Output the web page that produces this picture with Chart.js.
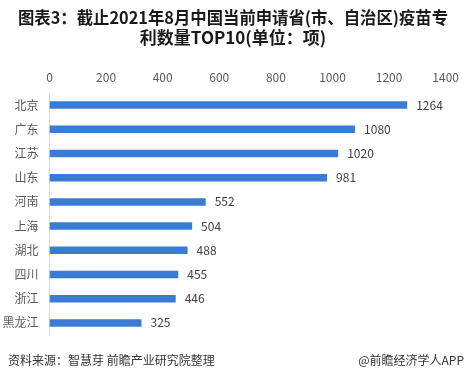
<!DOCTYPE html>
<html><head><meta charset="utf-8">
<script src="https://cdn.jsdelivr.net/npm/chart.js@4/dist/chart.umd.min.js"></script>
<style>html,body{margin:0;padding:0;background:#fff;}#wrap{width:467px;height:380px;position:relative;}</style>
</head><body><div id="wrap"><canvas id="c" width="467" height="380"></canvas></div>
<script>
const categories = ['北京','广东','江苏','山东','河南','上海','湖北','四川','浙江','黑龙江'];
const values = [1264,1080,1020,981,552,504,488,455,446,325];
const xTicks = [0,200,400,600,800,1000,1200,1400];
const titleLines = ['图表3：截止2021年8月中国当前申请省(市、自治区)疫苗专','利数量TOP10(单位：项)'];
const sourceText = '资料来源：智慧芽 前瞻产业研究院整理';
const brandText = '@前瞻经济学人APP';

const FONT = '"Microsoft YaHei","Noto Sans CJK SC","Noto Sans",sans-serif';

const textPlugin = {
  id: 'texts',
  afterDraw(chart) {
    const ctx = chart.ctx;
    ctx.save();
    ctx.fillStyle = '#1a1a1a';
    ctx.font = 'bold 17px ' + FONT;
    ctx.textAlign = 'center';
    ctx.textBaseline = 'middle';
    ctx.fillText(titleLines[0], 233, 18, 430);
    ctx.fillText(titleLines[1], 233, 38);
    ctx.font = '12px ' + FONT;
    ctx.fillStyle = '#333';
    ctx.textAlign = 'left';
    ctx.fillText(sourceText, 8, 360);
    ctx.textAlign = 'right';
    ctx.fillText(brandText, 464, 360);
    // value labels
    const meta = chart.getDatasetMeta(0);
    ctx.fillStyle = '#404040';
    ctx.textAlign = 'left';
    ctx.font = '12px ' + FONT;
    meta.data.forEach((bar, i) => {
      ctx.fillText(String(values[i]), bar.x + 9, bar.y);
    });
    ctx.restore();
  }
};

new Chart(document.getElementById('c'), {
  type: 'bar',
  data: {
    labels: categories,
    datasets: [{ data: values, backgroundColor: '#3a7bd5', barPercentage: 0.62, categoryPercentage: 0.5 }]
  },
  options: {
    indexAxis: 'y',
    responsive: false,
    animation: false,
    layout: { padding: { top: 62, bottom: 45, right: 18, left: 0 } },
    plugins: { legend: { display: false }, tooltip: { enabled: false } },
    scales: {
      x: {
        position: 'top',
        min: 0, max: 1400,
        afterBuildTicks(scale) { scale.ticks = xTicks.map(v => ({ value: v })); },
        afterFit(scale) { scale.height = 31; },
        grid: { display: false, drawTicks: false },
        border: { display: false },
        ticks: { color: '#595959', font: { size: 12, family: FONT }, padding: 8, callback: v => String(v) }
      },
      y: {
        afterFit(scale) { scale.width = 49.5; },
        grid: { display: false, drawTicks: false },
        border: { display: true, color: '#d9d9d9', width: 1 },
        ticks: { color: '#595959', font: { size: 12, family: FONT }, padding: 11 }
      }
    }
  },
  plugins: [textPlugin]
});
</script></body></html>
